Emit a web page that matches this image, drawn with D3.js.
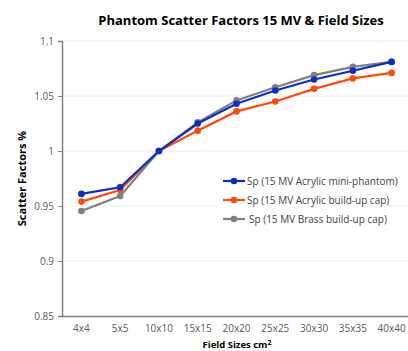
<!DOCTYPE html>
<html>
<head>
<meta charset="utf-8">
<script src="https://cdn.jsdelivr.net/npm/d3@7"></script>
<style>
  body { margin: 0; background: #fff; }
  text { font-family: "Open Sans", "Liberation Sans", sans-serif; }
</style>
</head>
<body>
<div id="chart"></div>
<script>
var width = 408, height = 351;

// data
var fieldSizes = ['4x4', '5x5', '10x10', '15x15', '20x20', '25x25', '30x30', '35x35', '40x40'];
var acrylicMini = [0.961, 0.967, 1.0, 1.025, 1.043, 1.055, 1.065, 1.073, 1.081];
var acrylicCap = [0.954, 0.9645, 1.0, 1.0185, 1.036, 1.045, 1.0565, 1.066, 1.071];
var brassCap = [0.9455, 0.959, 1.0, 1.026, 1.046, 1.058, 1.069, 1.0765, 1.081];
var yTicks = [0.85, 0.9, 0.95, 1, 1.05, 1.1];

var series = [
  { name: 'Sp (15 MV Acrylic mini-phantom)', values: acrylicMini, color: '#0a2fc4' },
  { name: 'Sp (15 MV Acrylic build-up cap)', values: acrylicCap, color: '#ff4a0a' },
  { name: 'Sp (15 MV Brass build-up cap)', values: brassCap, color: '#7f7f7f' }
];
// draw order: gray below blue so blue shows on top like the reference
var drawOrder = [1, 2, 0];

var margin = { left: 62, right: -3, top: 41, bottom: 35 };

var svg = d3.select('#chart').append('svg')
  .attr('width', width)
  .attr('height', height);

var x = d3.scaleBand()
  .domain(fieldSizes)
  .range([margin.left, width - margin.right]);

var y = d3.scaleLinear()
  .domain([0.85, 1.1])
  .range([height - margin.bottom, margin.top]);

// gridlines
svg.append('g')
  .selectAll('line')
  .data(yTicks.slice(1))
  .enter()
  .append('line')
  .attr('x1', margin.left)
  .attr('x2', width)
  .attr('y1', function (d) { return y(d); })
  .attr('y2', function (d) { return y(d); })
  .attr('stroke', '#ececec')
  .attr('stroke-width', 1);

// y axis
var yAxis = svg.append('g')
  .attr('transform', 'translate(' + margin.left + ',0)')
  .call(d3.axisLeft(y).tickValues(yTicks).tickSize(4).tickPadding(4)
    .tickFormat(function (d) { return d3.format('')(+d.toFixed(2)); }));
yAxis.select('.domain').attr('stroke', '#7f7f7f').attr('stroke-width', 1.5);
yAxis.selectAll('.tick line').attr('stroke', '#7f7f7f');
yAxis.selectAll('.tick text').attr('fill', '#595959').style('font-size', '10px');

// x axis
var xAxis = svg.append('g')
  .attr('transform', 'translate(0,' + y(0.85) + ')')
  .call(d3.axisBottom(x).tickSize(0).tickPadding(9));
xAxis.select('.domain').attr('stroke', '#7f7f7f').attr('stroke-width', 1.5);
xAxis.selectAll('.tick text').attr('fill', '#595959').style('font-size', '10px');

// lines and markers
var line = d3.line()
  .x(function (d, i) { return x(fieldSizes[i]) + x.bandwidth() / 2; })
  .y(function (d) { return y(d); });

drawOrder.forEach(function (k) {
  var s = series[k];
  svg.append('path')
    .datum(s.values)
    .attr('d', line)
    .attr('fill', 'none')
    .attr('stroke', s.color)
    .attr('stroke-width', 2.2);
  svg.append('g')
    .selectAll('circle')
    .data(s.values)
    .enter()
    .append('circle')
    .attr('cx', function (d, i) { return x(fieldSizes[i]) + x.bandwidth() / 2; })
    .attr('cy', function (d) { return y(d); })
    .attr('r', 3.3)
    .attr('fill', s.color);
});

// legend
var legend = svg.append('g');
legend.append('rect')
  .attr('x', 216).attr('y', 170)
  .attr('width', 172).attr('height', 58)
  .attr('fill', '#fff');
series.forEach(function (s, i) {
  var ly = 181 + i * 19;
  legend.append('line')
    .attr('x1', 223).attr('x2', 245)
    .attr('y1', ly).attr('y2', ly)
    .attr('stroke', s.color).attr('stroke-width', 2.2);
  legend.append('circle')
    .attr('cx', 234).attr('cy', ly).attr('r', 3.3)
    .attr('fill', s.color);
  legend.append('text')
    .attr('x', i == 2 ? 249 : 247).attr('y', ly + 3.5)
    .attr('fill', '#404040')
    .style('font-size', '10px')
    .text(s.name);
});

// title and axis labels
svg.append('text')
  .attr('x', 241).attr('y', 25)
  .attr('text-anchor', 'middle')
  .style('font-size', '13px').style('font-weight', 'bold')
  .attr('fill', '#000')
  .text('Phantom Scatter Factors 15 MV & Field Sizes');

svg.append('text')
  .attr('transform', 'translate(26,' + ((y(0.85) + y(1.1)) / 2) + ') rotate(-90)')
  .attr('text-anchor', 'middle')
  .style('font-size', '11px').style('font-weight', 'bold')
  .attr('fill', '#000')
  .text('Scatter Factors %');

var xl = svg.append('text')
  .attr('x', 237).attr('y', 348)
  .attr('text-anchor', 'middle')
  .style('font-size', '9.5px').style('font-weight', 'bold')
  .attr('fill', '#000')
  .text('Field Sizes cm');
xl.append('tspan').attr('dy', -3).style('font-size', '7px').text('2');
</script>
</body>
</html>
